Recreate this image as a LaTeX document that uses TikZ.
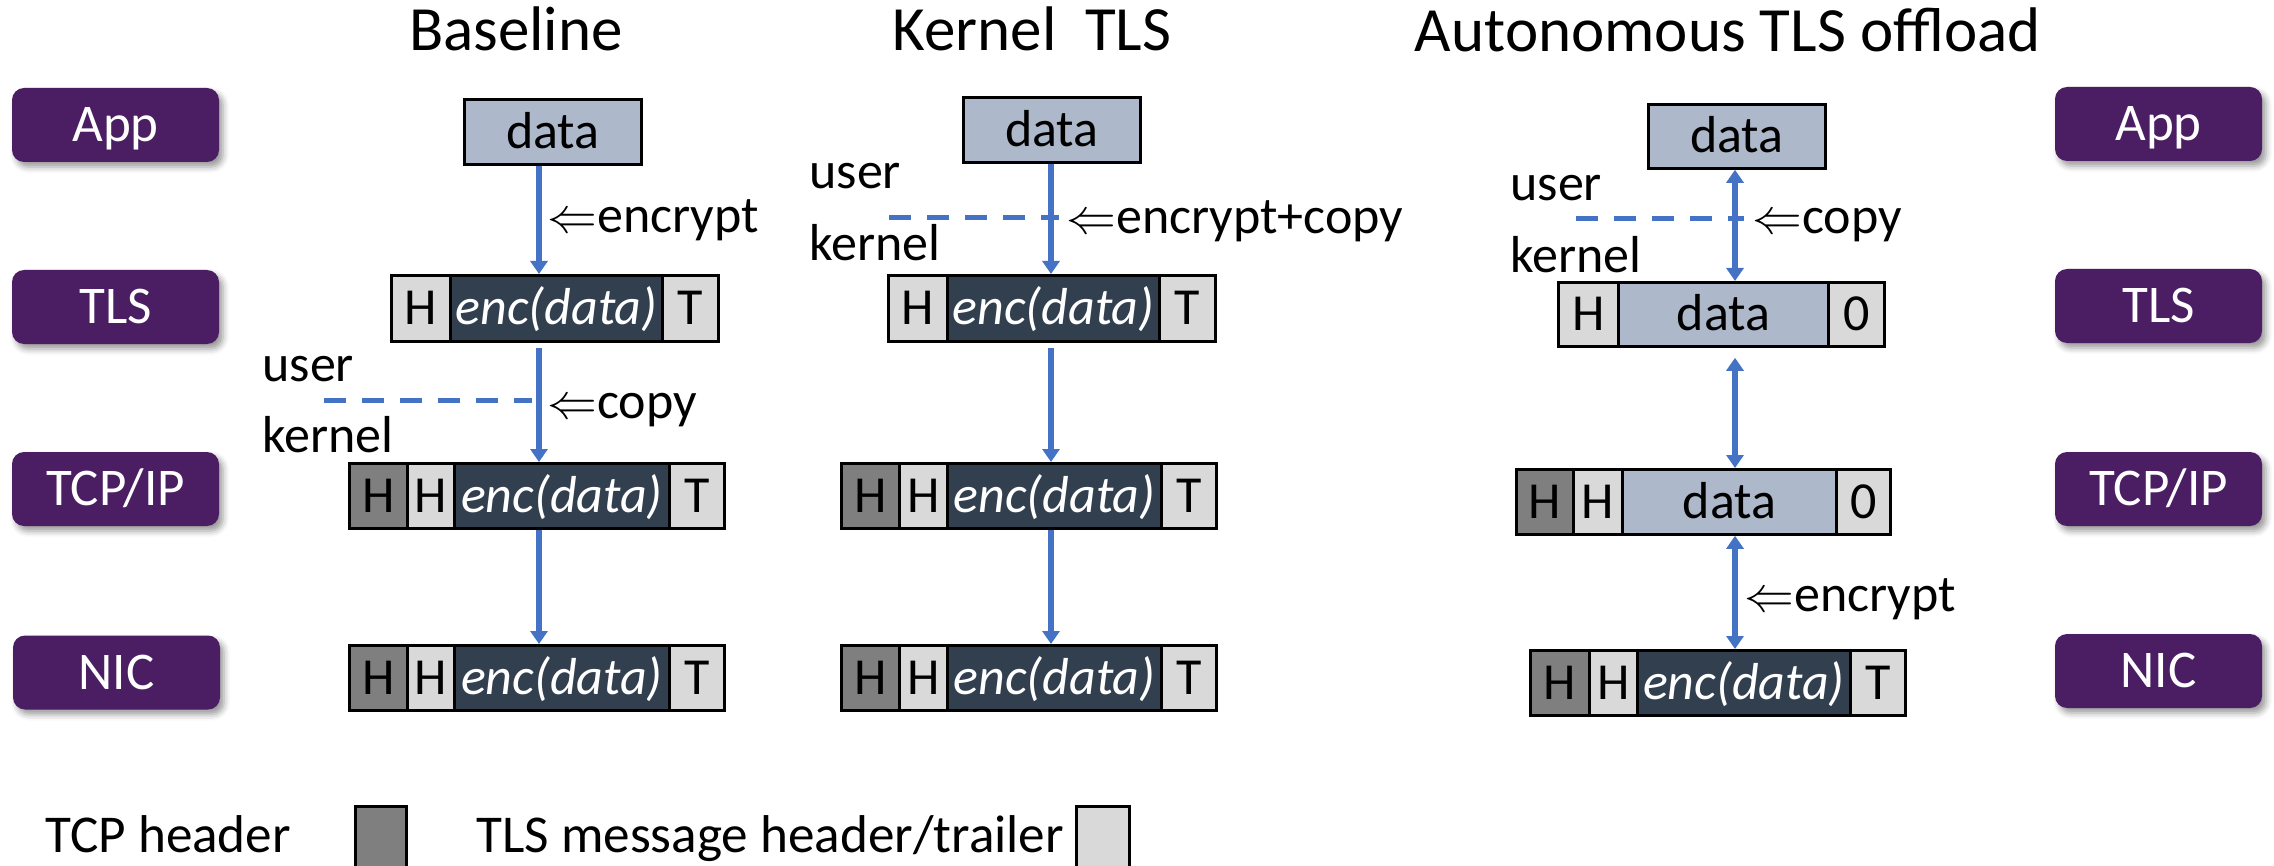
\documentclass[tikz,border=0pt]{standalone}
\usepackage{fontspec}
\setmainfont{Carlito}
\usetikzlibrary{arrows.meta,shadows.blur}
\definecolor{purp}{RGB}{75,30,100}
\definecolor{datab}{RGB}{173,185,202}
\definecolor{encb}{RGB}{50,63,79}
\definecolor{ltg}{RGB}{217,217,217}
\definecolor{dkg}{RGB}{127,127,127}
\definecolor{arrb}{RGB}{68,114,196}
\newcommand\fs{\fontsize{26pt}{31pt}\selectfont}
\newcommand\flay{\fontsize{26.5pt}{31pt}\selectfont}
\newcommand\fleg{\fontsize{26.6pt}{32pt}\selectfont}
\newcommand\ftitle{\fontsize{31.5pt}{38pt}\selectfont}
\newcommand\cell[7]{\node[#1, minimum width={(#4-#3)*0.5pt}, minimum height={(#6-#5)*0.5pt}] (#2) at (#3,#5) {#7};}
\tikzset{
 cellb/.style={draw=black, line width=1.4pt, inner sep=0pt, anchor=north west, font=\fs, text height=16.4pt, text depth=0pt},
 lt/.style={cellb, fill=ltg},
 dk/.style={cellb, fill=dkg},
 en/.style={cellb, fill=encb, text=white, font=\fs\itshape},
 db/.style={cellb, fill=datab},
 arr/.style={draw=arrb, line width=2.7pt, -{Triangle[length=6.5pt,width=8.5pt]}},
 darr/.style={draw=arrb, line width=2.7pt, {Triangle[length=6.5pt,width=8.5pt]}-{Triangle[length=6.5pt,width=8.5pt]}},
 dsh/.style={draw=arrb, line width=2.5pt, dash pattern=on 11pt off 8pt},
 lbl/.style={anchor=base west, inner sep=0pt, font=\fs},
 ttl/.style={anchor=base, inner sep=0pt, font=\ftitle},
 layer/.style={fill=purp, rounded corners=6pt, text=white, font=\flay, minimum width=103.5pt, minimum height=37pt, inner sep=0pt, text height=16.7pt, text depth=0pt,
   blur shadow={shadow xshift=2pt, shadow yshift=-2.5pt, shadow blur radius=3pt, shadow opacity=40}},
}
\begin{document}
\begin{tikzpicture}[x=0.5pt,y=-0.5pt]
\useasboundingbox (0,0) rectangle (2274,866);
% titles
\node[ttl] (t1) at (516,51) {Baseline};
\node[ttl] (t2) at (1032,51) {Kernel\ \ TLS};
\node[ttl] (t3) at (1728,51.5) {Autonomous TLS offload};
% layer boxes
\node[layer] (lapp) at (115.5,125) {App};
\node[layer] (ltls) at (115.5,307) {TLS};
\node[layer] (ltcp) at (115.5,489) {TCP/IP};
\node[layer] (lnic) at (116.5,672.5) {NIC};
\node[layer] (rapp) at (2158.5,124) {App};
\node[layer] (rtls) at (2158.5,306) {TLS};
\node[layer] (rtcp) at (2158.5,489) {TCP/IP};
\node[layer] (rnic) at (2158.5,671) {NIC};
% ---------- Baseline ----------
\cell{db}{bd}{463}{640}{98}{163}{data}
\cell{lt}{bt1}{390}{449}{274}{340}{H}
\cell{en}{bt2}{449}{661}{274}{340}{enc(data)}
\cell{lt}{bt3}{661}{717}{274}{340}{T}
\cell{dk}{bp1}{348}{406}{462}{527}{H}
\cell{lt}{bp2}{406}{453}{462}{527}{H}
\cell{en}{bp3}{453}{668}{462}{527}{enc(data)}
\cell{lt}{bp4}{668}{723}{462}{527}{T}
\cell{dk}{bn1}{348}{406}{644}{709}{H}
\cell{lt}{bn2}{406}{453}{644}{709}{H}
\cell{en}{bn3}{453}{668}{644}{709}{enc(data)}
\cell{lt}{bn4}{668}{723}{644}{709}{T}
\coordinate (bx) at (539,0);
\draw[arr] (bd.south -| bx) -- (bt2.north -| bx);
\draw[arr, shorten <=2.5pt] (bt2.south -| bx) -- (bp3.north -| bx);
\draw[arr] (bp3.south -| bx) -- (bn3.north -| bx);
\coordinate (bu1) at (324,400);
\coordinate (bu2) at (532,400);
\draw[dsh] (bu1) -- (bu2);
\node[lbl] (bl1) at (547,233) {$\Leftarrow$encrypt};
\node[lbl] (bl2) at (547,418) {$\Leftarrow$copy};
\node[lbl] (bl3) at (262,381) {user};
\node[lbl] (bl4) at (262,452) {kernel};
% ---------- Kernel TLS ----------
\cell{db}{kd}{962}{1139}{96}{161}{data}
\cell{lt}{kt1}{887}{946}{274}{340}{H}
\cell{en}{kt2}{946}{1158}{274}{340}{enc(data)}
\cell{lt}{kt3}{1158}{1214}{274}{340}{T}
\cell{dk}{kp1}{840}{898}{462}{527}{H}
\cell{lt}{kp2}{898}{946}{462}{527}{H}
\cell{en}{kp3}{946}{1160}{462}{527}{enc(data)}
\cell{lt}{kp4}{1160}{1215}{462}{527}{T}
\cell{dk}{kn1}{840}{898}{644}{709}{H}
\cell{lt}{kn2}{898}{946}{644}{709}{H}
\cell{en}{kn3}{946}{1160}{644}{709}{enc(data)}
\cell{lt}{kn4}{1160}{1215}{644}{709}{T}
\coordinate (kx) at (1051,0);
\draw[arr] (kd.south -| kx) -- (kt2.north -| kx);
\draw[arr, shorten <=2.5pt] (kt2.south -| kx) -- (kp3.north -| kx);
\draw[arr] (kp3.south -| kx) -- (kn3.north -| kx);
\coordinate (ku1) at (889,218);
\coordinate (ku2) at (1059,218);
\draw[dsh] (ku1) -- (ku2);
\node[lbl] (kl1) at (1066,233.5) {$\Leftarrow$encrypt+copy};
\node[lbl] (kl3) at (809,189) {user};
\node[lbl] (kl4) at (809,261) {kernel};
% ---------- Autonomous ----------
\cell{db}{ad}{1647}{1824}{103}{167}{data}
\cell{lt}{at1}{1557}{1617}{281}{345}{H}
\cell{db}{at2}{1617}{1827}{281}{345}{data}
\cell{lt}{at3}{1827}{1883}{281}{345}{0}
\cell{dk}{ap1}{1515}{1572}{468}{533}{H}
\cell{lt}{ap2}{1572}{1621}{468}{533}{H}
\cell{db}{ap3}{1621}{1835}{468}{533}{data}
\cell{lt}{ap4}{1835}{1889}{468}{533}{0}
\cell{dk}{an1}{1529}{1588}{649}{714}{H}
\cell{lt}{an2}{1588}{1636}{649}{714}{H}
\cell{en}{an3}{1636}{1849}{649}{714}{enc(data)}
\cell{lt}{an4}{1849}{1904}{649}{714}{T}
\coordinate (ax) at (1735,0);
\draw[darr] (ad.south -| ax) -- (at2.north -| ax);
\draw[darr, shorten <=5pt] (at2.south -| ax) -- (ap3.north -| ax);
\draw[darr] (ap3.south -| ax) -- (an3.north -| ax);
\coordinate (au1) at (1576,219);
\coordinate (au2) at (1744,219);
\draw[dsh] (au1) -- (au2);
\node[lbl] (al1) at (1752,233.5) {$\Leftarrow$copy};
\node[lbl] (al2) at (1744,611) {$\Leftarrow$encrypt};
\node[lbl] (al3) at (1510,201) {user};
\node[lbl] (al4) at (1510,272.5) {kernel};
% ---------- legend ----------
\node[lbl, font=\fleg] (lg1) at (45,852) {TCP header};
\node[dk, minimum width=25.5pt, minimum height=50pt] (lgb1) at (354,805) {};
\node[lbl, font=\fleg] (lg2) at (476,852) {TLS message header/trailer};
\node[lt, minimum width=26.5pt, minimum height=50pt] (lgb2) at (1075,805) {};
\end{tikzpicture}
\end{document}
